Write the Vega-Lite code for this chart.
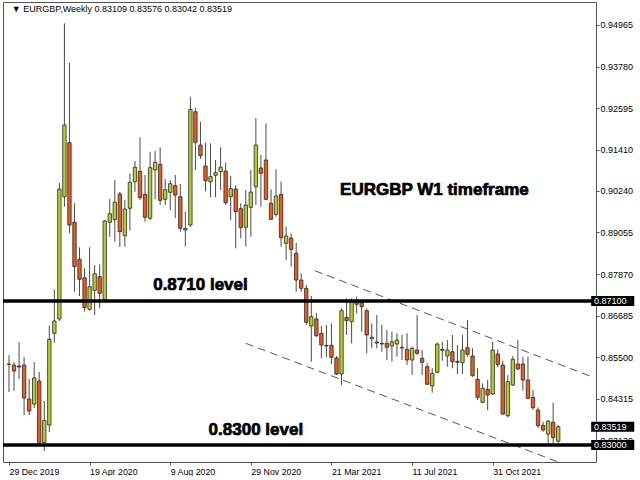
{
  "$schema": "https://vega.github.io/schema/vega-lite/v6.json",
  "width": 593,
  "height": 460,
  "padding": {"left": 1, "top": 2, "right": 0, "bottom": 0},
  "background": "white",
  "config": {
    "view": {"stroke": "#555", "strokeWidth": 1},
    "font": "Liberation Sans"
  },
  "datasets": {
    "k": [
      {"d":"2019-12-29","o":0.85292,"h":0.85563,"l":0.84509,"c":0.85307},
      {"d":"2020-01-05","o":0.85278,"h":0.85364,"l":0.84537,"c":0.85107},
      {"d":"2020-01-12","o":0.85250,"h":0.85933,"l":0.84879,"c":0.85221},
      {"d":"2020-01-19","o":0.85278,"h":0.85506,"l":0.83854,"c":0.84338},
      {"d":"2020-01-26","o":0.84310,"h":0.84879,"l":0.83854,"c":0.83968},
      {"d":"2020-02-02","o":0.84167,"h":0.85364,"l":0.84053,"c":0.84908},
      {"d":"2020-02-09","o":0.84822,"h":0.85079,"l":0.82999,"c":0.83056},
      {"d":"2020-02-16","o":0.83070,"h":0.84253,"l":0.82828,"c":0.83703},
      {"d":"2020-02-23","o":0.83569,"h":0.86398,"l":0.83369,"c":0.86010},
      {"d":"2020-03-01","o":0.86181,"h":0.87435,"l":0.85919,"c":0.86532},
      {"d":"2020-03-08","o":0.86589,"h":0.90463,"l":0.86532,"c":0.90292},
      {"d":"2020-03-15","o":0.90073,"h":0.95013,"l":0.89788,"c":0.92116},
      {"d":"2020-03-22","o":0.91612,"h":0.93891,"l":0.89030,"c":0.89267},
      {"d":"2020-03-29","o":0.89344,"h":0.89885,"l":0.87367,"c":0.88079},
      {"d":"2020-04-05","o":0.88290,"h":0.88631,"l":0.87244,"c":0.87720},
      {"d":"2020-04-12","o":0.87765,"h":0.88033,"l":0.86797,"c":0.86911},
      {"d":"2020-04-19","o":0.86865,"h":0.88631,"l":0.86825,"c":0.87509},
      {"d":"2020-04-26","o":0.87406,"h":0.88127,"l":0.86703,"c":0.87879},
      {"d":"2020-05-03","o":0.87794,"h":0.88147,"l":0.86894,"c":0.87321},
      {"d":"2020-05-10","o":0.87130,"h":0.89409,"l":0.87102,"c":0.89381},
      {"d":"2020-05-17","o":0.89344,"h":0.90008,"l":0.88933,"c":0.89589},
      {"d":"2020-05-24","o":0.89418,"h":0.90549,"l":0.88791,"c":0.89914},
      {"d":"2020-05-31","o":0.90150,"h":0.90207,"l":0.88640,"c":0.89076},
      {"d":"2020-06-07","o":0.88962,"h":0.89979,"l":0.88649,"c":0.89723},
      {"d":"2020-06-14","o":0.89743,"h":0.90740,"l":0.89104,"c":0.90483},
      {"d":"2020-06-21","o":0.90500,"h":0.91090,"l":0.90216,"c":0.90911},
      {"d":"2020-06-28","o":0.90797,"h":0.91765,"l":0.89979,"c":0.90045},
      {"d":"2020-07-05","o":0.90141,"h":0.90691,"l":0.89361,"c":0.89486},
      {"d":"2020-07-12","o":0.89458,"h":0.91355,"l":0.89409,"c":0.90899},
      {"d":"2020-07-19","o":0.90834,"h":0.91375,"l":0.89999,"c":0.91053},
      {"d":"2020-07-26","o":0.90996,"h":0.91480,"l":0.89837,"c":0.89971},
      {"d":"2020-08-02","o":0.89999,"h":0.90577,"l":0.89837,"c":0.90272},
      {"d":"2020-08-09","o":0.90198,"h":0.90549,"l":0.89694,"c":0.90443},
      {"d":"2020-08-16","o":0.90386,"h":0.90691,"l":0.89458,"c":0.90121},
      {"d":"2020-08-23","o":0.90073,"h":0.90435,"l":0.89076,"c":0.89173},
      {"d":"2020-08-30","o":0.89124,"h":0.89646,"l":0.88649,"c":0.89167},
      {"d":"2020-09-06","o":0.89267,"h":0.92922,"l":0.89218,"c":0.92563},
      {"d":"2020-09-13","o":0.92495,"h":0.92609,"l":0.90834,"c":0.91623},
      {"d":"2020-09-20","o":0.91546,"h":0.92210,"l":0.91147,"c":0.91241},
      {"d":"2020-09-27","o":0.90948,"h":0.91612,"l":0.90227,"c":0.90529},
      {"d":"2020-10-04","o":0.90500,"h":0.91594,"l":0.90056,"c":0.90643},
      {"d":"2020-10-11","o":0.90683,"h":0.91119,"l":0.90056,"c":0.90757},
      {"d":"2020-10-18","o":0.90785,"h":0.91480,"l":0.90264,"c":0.90911},
      {"d":"2020-10-25","o":0.90805,"h":0.91042,"l":0.89837,"c":0.89902},
      {"d":"2020-11-01","o":0.90073,"h":0.90663,"l":0.89409,"c":0.90301},
      {"d":"2020-11-08","o":0.90292,"h":0.90406,"l":0.88603,"c":0.89646},
      {"d":"2020-11-15","o":0.89731,"h":0.89885,"l":0.88888,"c":0.89190},
      {"d":"2020-11-22","o":0.89201,"h":0.90264,"l":0.88649,"c":0.89837},
      {"d":"2020-11-29","o":0.89771,"h":0.90834,"l":0.88933,"c":0.90207},
      {"d":"2020-12-06","o":0.90358,"h":0.92307,"l":0.89837,"c":0.91546},
      {"d":"2020-12-13","o":0.90891,"h":0.91261,"l":0.89788,"c":0.90740},
      {"d":"2020-12-20","o":0.91119,"h":0.92164,"l":0.89979,"c":0.89999},
      {"d":"2020-12-27","o":0.89885,"h":0.90284,"l":0.89409,"c":0.89429},
      {"d":"2021-01-03","o":0.89572,"h":0.90854,"l":0.89503,"c":0.90093},
      {"d":"2021-01-10","o":0.90141,"h":0.90500,"l":0.88649,"c":0.88905},
      {"d":"2021-01-17","o":0.88745,"h":0.89218,"l":0.88270,"c":0.88953},
      {"d":"2021-01-24","o":0.88896,"h":0.89030,"l":0.88079,"c":0.88574},
      {"d":"2021-01-31","o":0.88460,"h":0.88762,"l":0.87367,"c":0.87700},
      {"d":"2021-02-07","o":0.87700,"h":0.87891,"l":0.87367,"c":0.87463},
      {"d":"2021-02-14","o":0.87463,"h":0.87557,"l":0.86418,"c":0.86495},
      {"d":"2021-02-21","o":0.86389,"h":0.87244,"l":0.85372,"c":0.86654},
      {"d":"2021-02-28","o":0.86589,"h":0.86760,"l":0.86076,"c":0.86113},
      {"d":"2021-03-07","o":0.86181,"h":0.86389,"l":0.85469,"c":0.85848},
      {"d":"2021-03-14","o":0.85819,"h":0.86418,"l":0.85498,"c":0.85834},
      {"d":"2021-03-21","o":0.85839,"h":0.86466,"l":0.85307,"c":0.85498},
      {"d":"2021-03-28","o":0.85478,"h":0.85535,"l":0.84993,"c":0.85022},
      {"d":"2021-04-04","o":0.85022,"h":0.86894,"l":0.84708,"c":0.86825},
      {"d":"2021-04-11","o":0.86637,"h":0.87178,"l":0.86133,"c":0.86540},
      {"d":"2021-04-18","o":0.86512,"h":0.87178,"l":0.85896,"c":0.87082},
      {"d":"2021-04-25","o":0.87082,"h":0.87224,"l":0.86751,"c":0.87008},
      {"d":"2021-05-02","o":0.87065,"h":0.87130,"l":0.86227,"c":0.86939},
      {"d":"2021-05-09","o":0.86825,"h":0.86894,"l":0.85612,"c":0.86133},
      {"d":"2021-05-16","o":0.86027,"h":0.86466,"l":0.85754,"c":0.86067},
      {"d":"2021-05-23","o":0.85933,"h":0.86703,"l":0.85754,"c":0.85905},
      {"d":"2021-05-30","o":0.85896,"h":0.86418,"l":0.85657,"c":0.85876},
      {"d":"2021-06-06","o":0.85896,"h":0.86275,"l":0.85421,"c":0.85782},
      {"d":"2021-06-13","o":0.85819,"h":0.86227,"l":0.85372,"c":0.85942},
      {"d":"2021-06-20","o":0.85876,"h":0.86181,"l":0.85515,"c":0.85990},
      {"d":"2021-06-27","o":0.85782,"h":0.86133,"l":0.85421,"c":0.85763},
      {"d":"2021-07-04","o":0.85725,"h":0.86181,"l":0.85278,"c":0.85421},
      {"d":"2021-07-11","o":0.85421,"h":0.85800,"l":0.84993,"c":0.85754},
      {"d":"2021-07-18","o":0.85706,"h":0.86703,"l":0.85563,"c":0.85612},
      {"d":"2021-07-25","o":0.85469,"h":0.85706,"l":0.84993,"c":0.85355},
      {"d":"2021-08-01","o":0.85230,"h":0.85327,"l":0.84708,"c":0.84728},
      {"d":"2021-08-08","o":0.84680,"h":0.85184,"l":0.84489,"c":0.85042},
      {"d":"2021-08-15","o":0.85070,"h":0.85914,"l":0.85042,"c":0.85876},
      {"d":"2021-08-22","o":0.85725,"h":0.85942,"l":0.85401,"c":0.85697},
      {"d":"2021-08-29","o":0.85535,"h":0.85990,"l":0.85230,"c":0.85706},
      {"d":"2021-09-05","o":0.85657,"h":0.86133,"l":0.85184,"c":0.85372},
      {"d":"2021-09-12","o":0.85384,"h":0.85848,"l":0.85022,"c":0.85355},
      {"d":"2021-09-19","o":0.85344,"h":0.86133,"l":0.85022,"c":0.85706},
      {"d":"2021-09-26","o":0.85771,"h":0.86560,"l":0.85515,"c":0.85583},
      {"d":"2021-10-03","o":0.85535,"h":0.85754,"l":0.84945,"c":0.84973},
      {"d":"2021-10-10","o":0.84871,"h":0.85184,"l":0.84281,"c":0.84358},
      {"d":"2021-10-17","o":0.84216,"h":0.84757,"l":0.84187,"c":0.84614},
      {"d":"2021-10-24","o":0.84586,"h":0.84851,"l":0.83996,"c":0.84423},
      {"d":"2021-10-31","o":0.84452,"h":0.85942,"l":0.84423,"c":0.85706},
      {"d":"2021-11-07","o":0.85592,"h":0.85725,"l":0.85213,"c":0.85298},
      {"d":"2021-11-14","o":0.85278,"h":0.85401,"l":0.83854,"c":0.83882},
      {"d":"2021-11-21","o":0.83834,"h":0.84993,"l":0.83788,"c":0.84802},
      {"d":"2021-11-28","o":0.84708,"h":0.85535,"l":0.84680,"c":0.85441},
      {"d":"2021-12-05","o":0.85307,"h":0.85990,"l":0.85136,"c":0.85164},
      {"d":"2021-12-12","o":0.85307,"h":0.85515,"l":0.84546,"c":0.84851},
      {"d":"2021-12-19","o":0.84851,"h":0.85515,"l":0.84301,"c":0.84329},
      {"d":"2021-12-26","o":0.84358,"h":0.84566,"l":0.83996,"c":0.84062},
      {"d":"2022-01-02","o":0.83996,"h":0.84073,"l":0.83475,"c":0.83549},
      {"d":"2022-01-09","o":0.83560,"h":0.83663,"l":0.83378,"c":0.83426},
      {"d":"2022-01-16","o":0.83312,"h":0.83711,"l":0.83047,"c":0.83674},
      {"d":"2022-01-23","o":0.83646,"h":0.84204,"l":0.83047,"c":0.83207},
      {"d":"2022-01-30","o":0.83109,"h":0.83576,"l":0.83042,"c":0.83519}
    ],
    "levels": [{"v": 0.871}, {"v": 0.83}],
    "tags": [
      {"v": 0.871, "t": "0.87100"},
      {"v": 0.83519, "t": "0.83519"},
      {"v": 0.83, "t": "0.83000"}
    ],
    "channel": [
      {"d":"2021-02-26","v":0.87965,"g":"upper"},
      {"d":"2022-03-15","v":0.84965,"g":"upper"},
      {"d":"2020-11-22","v":0.85896,"g":"lower"},
      {"d":"2022-01-29","v":0.82523,"g":"lower"}
    ],
    "labels": [
      {"d":"2020-09-20","v":0.87557,"t":"0.8710 level"},
      {"d":"2020-12-06","v":0.83426,"t":"0.8300 level"},
      {"d":"2021-08-11","v":0.90264,"t":"EURGBP W1 timeframe"}
    ],
    "header": [
      {"d":"2020-01-02","v":0.95421,"t":"▼ EURGBP,Weekly  0.83109 0.83576 0.83042 0.83519"}
    ]
  },
  "layer": [
    {
      "data": {"name": "channel", "format": {"parse": {"d": "utc:'%Y-%m-%d'"}}},
      "mark": {"type": "line", "color": "#555", "strokeWidth": 1, "strokeDash": [8, 5], "clip": true},
      "encoding": {
        "x": {
          "field": "d", "type": "temporal", "title": null,
          "scale": {"type": "utc", "domain": [1577458800000, 1647439200000]},
          "axis": {
            "values": [1577577600000, 1587254400000, 1596931200000, 1606608000000, 1616284800000, 1625961600000, 1635638400000],
            "format": "%-d %b %Y",
            "labelAlign": "left",
            "labelFontSize": 8.8,
            "labelColor": "#000",
            "labelPadding": 2,
            "labelFlush": false,
            "labelOverlap": false,
            "tickSize": 3,
            "tickColor": "#555",
            "domain": false,
            "grid": false
          }
        },
        "y": {
          "field": "v", "type": "quantitative", "title": null,
          "scale": {"domain": [0.82515, 0.9562], "nice": false, "zero": false},
          "axis": {
            "orient": "right",
            "values": [0.94965, 0.9378, 0.92595, 0.9141, 0.9024, 0.89055, 0.8787, 0.86685, 0.855, 0.84315, 0.8313],
            "format": ".5f",
            "labelFontSize": 9,
            "labelColor": "#000",
            "labelPadding": 1,
            "labelOverlap": false,
            "tickSize": 3,
            "tickColor": "#555",
            "domain": false,
            "grid": false
          }
        },
        "detail": {"field": "g"}
      }
    },
    {
      "data": {"name": "k", "format": {"parse": {"d": "utc:'%Y-%m-%d'"}}},
      "layer": [
        {
          "mark": {"type": "rule", "color": "#4a4a4a", "strokeWidth": 1},
          "encoding": {
            "x": {"field": "d", "type": "temporal"},
            "y": {"field": "l", "type": "quantitative"},
            "y2": {"field": "h"}
          }
        },
        {
          "mark": {"type": "bar", "width": 3.4, "stroke": "#2a2a2a", "strokeWidth": 0.8},
          "encoding": {
            "x": {"field": "d", "type": "temporal"},
            "y": {"field": "o", "type": "quantitative"},
            "y2": {"field": "c"},
            "fill": {
              "condition": {"test": "datum.c >= datum.o", "value": "#b5cf2a"},
              "value": "#ec5a1c"
            }
          }
        }
      ]
    },
    {
      "data": {"name": "levels"},
      "mark": {"type": "rule", "color": "#000", "strokeWidth": 3.5},
      "encoding": {
        "y": {"field": "v", "type": "quantitative"}
      }
    },
    {
      "data": {"name": "tags"},
      "mark": {"type": "rule", "color": "#000", "strokeWidth": 10, "strokeCap": "butt"},
      "encoding": {
        "x": {"datum": 1647460800000, "type": "temporal"},
        "x2": {"datum": 1652631840000},
        "y": {"field": "v", "type": "quantitative"}
      }
    },
    {
      "data": {"name": "tags"},
      "mark": {"type": "text", "font": "Liberation Sans", "fontSize": 9, "color": "#fff", "align": "left", "baseline": "middle"},
      "encoding": {
        "x": {"datum": 1647793440000, "type": "temporal"},
        "y": {"field": "v", "type": "quantitative"},
        "text": {"field": "t"}
      }
    },
    {
      "data": {"name": "labels", "format": {"parse": {"d": "utc:'%Y-%m-%d'"}}},
      "mark": {"type": "text", "font": "Liberation Sans", "fontWeight": "bold", "fontSize": 17, "color": "#000", "stroke": "#000", "strokeWidth": 0.7, "align": "center", "baseline": "middle"},
      "encoding": {
        "x": {"field": "d", "type": "temporal"},
        "y": {"field": "v", "type": "quantitative"},
        "text": {"field": "t"}
      }
    },
    {
      "data": {"name": "header", "format": {"parse": {"d": "utc:'%Y-%m-%d'"}}},
      "mark": {"type": "text", "font": "Liberation Sans", "fontSize": 9, "color": "#000", "align": "left", "baseline": "middle"},
      "encoding": {
        "x": {"field": "d", "type": "temporal"},
        "y": {"field": "v", "type": "quantitative"},
        "text": {"field": "t"}
      }
    }
  ]
}
